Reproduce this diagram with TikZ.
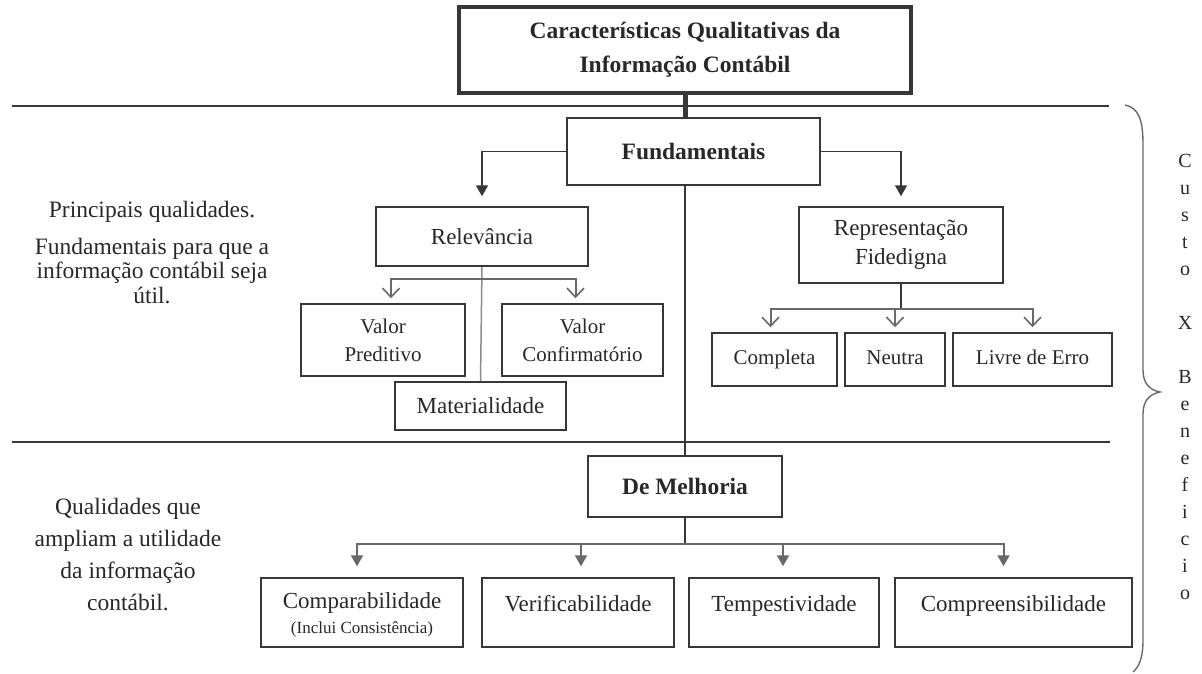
\documentclass[tikz,border=0pt]{standalone}
\usepackage{fontspec}
\setmainfont{Liberation Serif}
\usetikzlibrary{arrows.meta,positioning,calc}
\definecolor{cqInk}  {RGB}{ 40, 40, 40}
\definecolor{cqLine} {RGB}{ 55, 55, 55}
\definecolor{cqGray} {RGB}{105,105,105}
\definecolor{cqLight}{RGB}{140,140,140}

\begin{document}
\begin{tikzpicture}[x=1pt,y=-1pt,
  every node/.style={font=\fontsize{23}{28}\selectfont,text=cqInk},
  >={Triangle[length=11pt,width=12pt]},
  box/.style={draw=cqLine,line width=1.5pt,align=center,inner sep=0pt},
  headbox/.style={box,font=\fontsize{23.5}{34}\selectfont\bfseries},
  smallbox/.style={box,font=\fontsize{21}{28}\selectfont},
  onebox/.style={smallbox,text height=14pt,text depth=5pt},
  topbox/.style={box,minimum height=69pt,text height=33pt,text depth=36pt},
  note/.style={align=center},
  letter/.style={font=\fontsize{20}{24}\selectfont,anchor=base,inner sep=0pt},
  sep/.style={draw=cqLine,line width=1.8pt},
  trunk/.style={draw=cqLine,line width=2.5pt},
  feed/.style={draw=cqLine,line width=1.6pt},
  branch/.style={draw=cqGray,line width=2pt},
  vtip/.style={-{Straight Barb[length=9pt,width=17pt,line width=1.6pt]}}
]
\useasboundingbox (0,0) rectangle (1202,673);

% top of the tree
\node[headbox,line width=4pt,minimum width=452pt,minimum height=86pt] (title) at (685,50)
  {Características Qualitativas da\\Informação Contábil};
\node[headbox,minimum width=253pt,minimum height=67pt] (fund) at (693.5,151.5) {Fundamentais};

% fundamentais
\node[box,minimum width=212pt,minimum height=59pt] (rel) at (482,236.5) {Relevância};
\node[smallbox,minimum width=164pt,minimum height=72pt] (vp) at (383,340) {Valor\\Preditivo};
\node[smallbox,minimum width=161pt,minimum height=72pt] (vc) at (582.5,340) {Valor\\Confirmatório};
\node[box,line width=1.8pt,minimum width=171pt,minimum height=48pt] (mat) at (480.5,406) {Materialidade};

\node[box,font=\fontsize{23}{29}\selectfont,minimum width=204pt,minimum height=76pt] (rep) at (901,245)
  {Representação\\Fidedigna};
\node[onebox,minimum width=125pt,minimum height=53pt] (compl) at (774.5,359.5) {Completa};
\node[onebox,minimum width=100pt,minimum height=53pt] (neut) at (895,359.5) {Neutra};
\node[onebox,minimum width=159pt,minimum height=53pt] (livre) at (1032.5,359.5) {Livre de Erro};

% de melhoria
\node[headbox,minimum width=194pt,minimum height=61pt] (melh) at (685,486.5) {De Melhoria};
\node[topbox,text height=55pt,text depth=14pt,minimum width=202pt] (compar) at (362,612.5)
  {Comparabilidade\\[-3pt]{\fontsize{17}{20}\selectfont(Inclui Consistência)}};
\node[topbox,minimum width=192pt] (verif) at (578,612.5) {Verificabilidade};
\node[topbox,minimum width=190pt] (tempe) at (784,612.5) {Tempestividade};
\node[topbox,minimum width=237pt] (compr) at (1013.5,612.5) {Compreensibilidade};

% side notes
\node[note,font=\fontsize{23.5}{28}\selectfont] (princ) at (152,212) {Principais qualidades.};
\node[note,font=\fontsize{23.5}{24.5}\selectfont] (fundNote) at (152,271)
  {Fundamentais para que a\\informação contábil seja\\útil.};
\node[note,font=\fontsize{23.5}{32}\selectfont] (melhNote) at (128,555)
  {Qualidades que\\ampliam a utilidade\\da informação\\contábil.};

% separators
\draw[sep] (12,106) -- (1109,106);
\draw[sep] (12,442) -- (1110,442);

% connectors
\draw[trunk,line width=5pt] (title.south) -- (title.south |- fund.north);
\draw[trunk] (title.south |- fund.south) -- (melh.north);
\draw[feed,->,shorten >=10pt] (fund.west) -| (rel.north);
\draw[feed,->,shorten >=10pt] (fund.east) -| (rep.north);

\coordinate (relJ) at ($(rel.south)+(0,12)$);
\draw[draw=cqLight,line width=1.5pt] (rel.south) -- (mat.north);
\draw[branch,vtip,shorten >=5pt] (relJ) -| ([xshift=8pt]vp.north);
\draw[branch,vtip,shorten >=5pt] (relJ) -| ([xshift=-7pt]vc.north);

\coordinate (repJ) at ($(rep.south)+(0,25)$);
\draw[feed] (rep.south) -- (repJ);
\draw[branch,vtip,shorten >=5pt] (repJ) -| ([xshift=-4pt]compl.north);
\draw[branch,vtip,shorten >=5pt] (repJ) -| (neut.north);
\draw[branch,vtip,shorten >=5pt] (repJ) -| (livre.north);

\coordinate (melJ) at ($(melh.south)+(0,26)$);
\draw[feed] (melh.south) -- (melJ);
\foreach \b/\dx in {compar/-5,verif/3,tempe/-1,compr/-10}
  \draw[branch,->,shorten >=11pt] (melJ) -| ([xshift=\dx pt]\b.north);

% custo x beneficio
\draw[draw=cqGray,line width=1.4pt] (1125,105) .. controls (1139,108) and (1143,120) .. (1143,145)
  -- (1143,370) .. controls (1143,384) and (1150,390) .. (1160,392)
  .. controls (1150,394) and (1143,400) .. (1143,414)
  -- (1143,640) .. controls (1143,656) and (1140,666) .. (1133,672);
\foreach \ch [count=\i from 0] in {C,u,s,t,o,,X,,B,e,n,e,f,i,c,i,o}
  \node[letter] (cb\i) at (1185,{167+27*\i}) {\ch};
\end{tikzpicture}
\end{document}
